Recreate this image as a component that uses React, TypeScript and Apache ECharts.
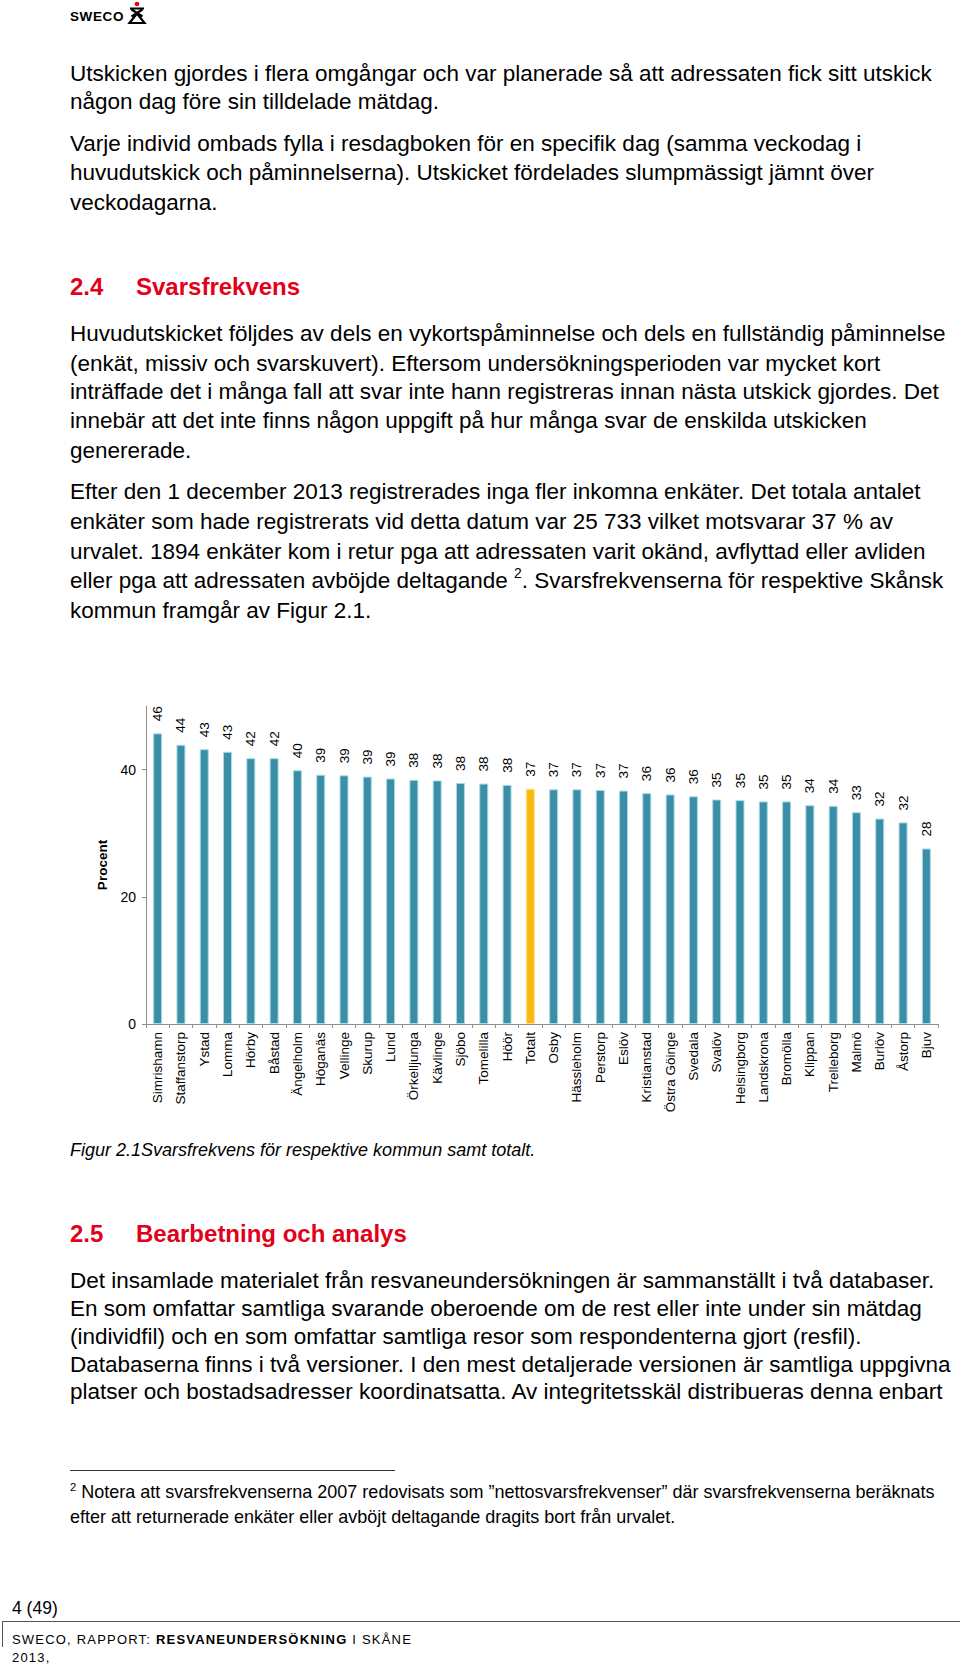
import React, { useEffect, useLayoutEffect, useRef } from "react";
import * as echarts from "echarts";

const categories = [
  "Simrishamn", "Staffanstorp", "Ystad", "Lomma", "Hörby", "Båstad", "Ängelholm",
  "Höganäs", "Vellinge", "Skurup", "Lund", "Örkelljunga", "Kävlinge", "Sjöbo",
  "Tomelilla", "Höör", "Totalt", "Osby", "Hässleholm", "Perstorp", "Eslöv",
  "Kristianstad", "Östra Göinge", "Svedala", "Svalöv", "Helsingborg", "Landskrona",
  "Bromölla", "Klippan", "Trelleborg", "Malmö", "Burlöv", "Åstorp", "Bjuv",
];
const responseRates = [
  45.7, 43.9, 43.2, 42.8, 41.8, 41.8, 39.9, 39.2, 39.1, 38.9, 38.6, 38.4, 38.3, 37.9,
  37.8, 37.6, 37.0, 36.9, 36.9, 36.8, 36.7, 36.3, 36.1, 35.8, 35.3, 35.2, 35.0,
  35.0, 34.4, 34.3, 33.3, 32.3, 31.7, 27.6,
];
const yTickValues = [0, 20, 40];
const highlightCategory = "Totalt";

const FONT = '"Liberation Sans", Arial, Helvetica, sans-serif';
const RED = "#e2001a";

function Line(props: { y: number; x?: number; size?: number; style?: React.CSSProperties; children: React.ReactNode; innerRef?: any }) {
  const size = props.size ?? 22.5;
  return (
    <div
      ref={props.innerRef}
      style={{
        position: "absolute",
        left: props.x ?? 70,
        top: props.y - 0.563 * size,
        fontSize: size,
        lineHeight: 1.15,
        whiteSpace: "nowrap",
        color: "#000",
        fontFamily: FONT,
        transformOrigin: "0 50%",
        ...props.style,
      }}
    >
      {props.children}
    </div>
  );
}

function Chart() {
  const ref = useRef<HTMLDivElement>(null);
  useEffect(() => {
    if (!ref.current) return;
    const chart = echarts.init(ref.current, null, { renderer: "svg" });
    const data = responseRates.map((v, i) => {
      const hi = categories[i] === highlightCategory;
      return {
        value: v,
        itemStyle: {
          color: hi ? "#fdb913" : "#3a8fa6",
          borderColor: hi ? "#ffe08a" : "#a9dbe7",
          borderWidth: 1,
        },
      };
    });
    chart.setOption({
      animation: false,
      textStyle: { fontFamily: FONT },
      grid: { left: 146, right: 22, top: 66, bottom: 96 },
      xAxis: {
        type: "category",
        data: categories,
        axisLine: { lineStyle: { color: "#8f8f8f", width: 1 } },
        axisTick: { show: true, length: 4, lineStyle: { color: "#8f8f8f" } },
        axisLabel: { rotate: 90, interval: 0, fontSize: 13.5, color: "#000", margin: 8, fontFamily: FONT },
      },
      yAxis: {
        type: "value",
        min: 0,
        max: 50,
        interval: 10,
        name: "Procent",
        nameLocation: "middle",
        nameGap: 33,
        nameTextStyle: { fontWeight: "bold", fontSize: 13.5, color: "#000", fontFamily: FONT },
        axisLine: { show: true, lineStyle: { color: "#8f8f8f", width: 1 } },
        axisTick: { show: true, length: 4, customValues: yTickValues, lineStyle: { color: "#8f8f8f" } },
        axisLabel: {
          fontSize: 14,
          color: "#000",
          margin: 10,
          fontFamily: FONT,
          customValues: yTickValues,
          formatter: (v: number) => (yTickValues.includes(v) ? String(v) : ""),
        },
        splitLine: { show: false },
      },
      series: [
        {
          type: "bar",
          data,
          barWidth: 9,
          label: {
            show: true,
            position: "top",
            distance: 12,
            rotate: 90,
            align: "left",
            verticalAlign: "middle",
            fontSize: 13.5,
            color: "#000",
            fontFamily: FONT,
            formatter: (p: any) => String(Math.round(p.value)),
          },
        },
      ],
    });
    return () => chart.dispose();
  }, []);
  return <div ref={ref} style={{ position: "absolute", left: 0, top: 640, width: 960, height: 480 }} />;
}

export default function App() {
  const fn1 = useRef<HTMLDivElement>(null);
  const fn2 = useRef<HTMLDivElement>(null);
  useLayoutEffect(() => {
    if (fn1.current && fn2.current) {
      const w = fn1.current.scrollWidth;
      const s = 865 / w;
      fn1.current.style.transform = `scaleX(${s})`;
      fn2.current.style.transform = `scaleX(${s})`;
    }
  }, []);
  const h: React.CSSProperties = { color: RED, fontWeight: "bold" };
  return (
    <div style={{ position: "absolute", left: 0, top: 0, width: 960, height: 1665, background: "#fff", overflow: "hidden", fontFamily: FONT }}>
      {/* Logo */}
      <div style={{ position: "absolute", left: 70, top: 9, fontSize: 13.5, fontWeight: "bold", letterSpacing: 0.6, fontFamily: FONT, lineHeight: 1.15 }}>SWECO</div>
      <svg style={{ position: "absolute", left: 127, top: 1 }} width={20} height={24} viewBox="0 0 20 24">
        <circle cx={10} cy={3} r={2.3} fill={RED} />
        <path d="M3 7.5 L17 7.5 M4.5 8.5 L15.5 15.5 M15.5 8.5 L4.5 15.5" stroke="#000" strokeWidth={2.2} fill="none" />
        <path d="M10 12.5 L2.5 22 L17.5 22 Z" stroke="#000" strokeWidth={2.2} fill="none" strokeLinejoin="miter" />
      </svg>

      <Line y={73.3}>Utskicken gjordes i flera omgångar och var planerade så att adressaten fick sitt utskick</Line>
      <Line y={102}>någon dag före sin tilldelade mätdag.</Line>

      <Line y={143.4}>Varje individ ombads fylla i resdagboken för en specifik dag (samma veckodag i</Line>
      <Line y={173}>huvudutskick och påminnelserna). Utskicket fördelades slumpmässigt jämnt över</Line>
      <Line y={202.8}>veckodagarna.</Line>

      <Line y={287} size={24} style={h}>2.4</Line>
      <Line y={287} x={136} size={24} style={h}>Svarsfrekvens</Line>

      <Line y={333.5}>Huvudutskicket följdes av dels en vykortspåminnelse och dels en fullständig påminnelse</Line>
      <Line y={363.2}>(enkät, missiv och svarskuvert). Eftersom undersökningsperioden var mycket kort</Line>
      <Line y={392}>inträffade det i många fall att svar inte hann registreras innan nästa utskick gjordes. Det</Line>
      <Line y={420.6}>innebär att det inte finns någon uppgift på hur många svar de enskilda utskicken</Line>
      <Line y={450.3}>genererade.</Line>

      <Line y={491.7}>Efter den 1 december 2013 registrerades inga fler inkomna enkäter. Det totala antalet</Line>
      <Line y={521.4}>enkäter som hade registrerats vid detta datum var 25 733 vilket motsvarar 37 % av</Line>
      <Line y={551.2}>urvalet. 1894 enkäter kom i retur pga att adressaten varit okänd, avflyttad eller avliden</Line>
      <Line y={580.9}>
        eller pga att adressaten avböjde deltagande <sup style={{ fontSize: "0.62em", lineHeight: 0, verticalAlign: "0.75em" }}>2</sup>. Svarsfrekvenserna för respektive Skånsk
      </Line>
      <Line y={610.7}>kommun framgår av Figur 2.1.</Line>

      <Chart />

      <Line y={1150} size={18} style={{ fontStyle: "italic" }}>Figur 2.1Svarsfrekvens för respektive kommun samt totalt.</Line>

      <Line y={1234} size={24} style={h}>2.5</Line>
      <Line y={1234} x={136} size={24} style={h}>Bearbetning och analys</Line>

      <Line y={1281}>Det insamlade materialet från resvaneundersökningen är sammanställt i två databaser.</Line>
      <Line y={1308.5}>En som omfattar samtliga svarande oberoende om de rest eller inte under sin mätdag</Line>
      <Line y={1336.5}>(individfil) och en som omfattar samtliga resor som respondenterna gjort (resfil).</Line>
      <Line y={1364.5}>Databaserna finns i två versioner. I den mest detaljerade versionen är samtliga uppgivna</Line>
      <Line y={1392}>platser och bostadsadresser koordinatsatta. Av integritetsskäl distribueras denna enbart</Line>

      <div style={{ position: "absolute", left: 70, top: 1470, width: 325, height: 1.3, background: "#333" }} />
      <Line y={1491} size={18.5} innerRef={fn1} style={{ fontFamily: '"Liberation Sans Narrow", ' + FONT }}>
        <sup style={{ fontSize: "0.62em", lineHeight: 0, verticalAlign: "0.6em" }}>2</sup> Notera att svarsfrekvenserna 2007 redovisats som ”nettosvarsfrekvenser” där svarsfrekvenserna beräknats
      </Line>
      <Line y={1516} size={18.5} innerRef={fn2} style={{ fontFamily: '"Liberation Sans Narrow", ' + FONT }}>
        efter att returnerade enkäter eller avböjt deltagande dragits bort från urvalet.
      </Line>

      <Line y={1608} x={12} size={17.5}>4 (49)</Line>
      <div style={{ position: "absolute", left: 2, top: 1620.5, width: 958, height: 1.3, background: "#555" }} />
      <div style={{ position: "absolute", left: 2, top: 1620.5, width: 1.3, height: 26, background: "#555" }} />
      <Line y={1640.5} x={12} size={13} style={{ letterSpacing: 1.2 }}>
        SWECO, RAPPORT: <b>RESVANEUNDERSÖKNING</b> I SKÅNE
      </Line>
      <Line y={1658} x={12} size={13} style={{ letterSpacing: 1.2 }}>2013,</Line>
    </div>
  );
}
